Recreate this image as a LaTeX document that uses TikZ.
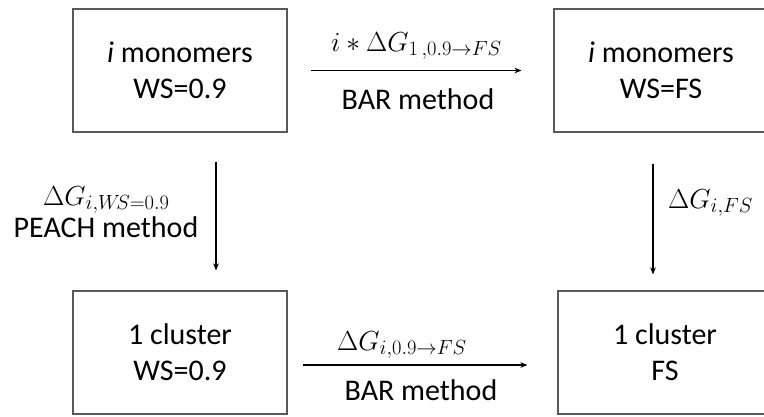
\documentclass[tikz,border=0pt]{standalone}
\usepackage{fix-cm}
\usepackage{fontspec}
\setmainfont{Carlito}
\usetikzlibrary{arrows.meta}
\DeclareMathSizes{27.5}{27.5}{20.5}{15}
\begin{document}
\begin{tikzpicture}[x=1pt,y=-1pt,
  statebox/.style={draw=black!65, line width=1.1pt, minimum width=214pt, minimum height=123pt,
    align=center, font=\fontsize{30}{36}\selectfont, inner sep=0pt},
  flow/.style={-{Stealth[length=7pt,width=5.5pt]}, line width=1.3pt},
  lbl/.style={anchor=base, inner sep=0pt, font=\fontsize{30}{34}\selectfont},
  mlbl/.style={inner sep=0pt, font=\fontsize{27.5}{34}\selectfont}]
\useasboundingbox (0,0) rectangle (764,416);
\clip (0,0) rectangle (764,416);
\fill[white] (0,0) rectangle (764,416);

\node[statebox] (tl) at (180,70.5) {\textit{i} monomers\\WS=0.9};
\node[statebox] (tr) at (661,70.5) {\textit{i} monomers\\WS=FS};
\node[statebox] (bl) at (180,352.5) {1 cluster\\WS=0.9};
\node[statebox] (br) at (665,352.5) {1 cluster\\FS};

\draw[flow] ([xshift=23pt]tl.east) -- ([xshift=-32pt]tr.west);
\draw[flow] ([shift={(15,12.5)}]bl.east) -- ([shift={(-30,12.5)}]br.west);
\draw[flow] ([shift={(36,29)}]tl.south) -- ([shift={(36,-20)}]bl.north);
\draw[flow] ([shift={(-8,31)}]tr.south) -- ([shift={(-12,-16)}]br.north);

\node[mlbl, anchor=base east] (tmath) at (502,51) {$i \ast \Delta G_{1\,,0.9\rightarrow FS}$};
\node[lbl] (tbar) at (418,109) {BAR method};
\node[mlbl, anchor=base east] (bmath) at (467,350) {$\Delta G_{i,0.9\rightarrow FS}$};
\node[lbl] (bbar) at (421,400) {BAR method};
\node[mlbl, anchor=base west] (lmath) at (43,205) {$\Delta G_{i,W\!S=0.9}$};
\node[lbl] (lpeach) at (106,237) {PEACH method};
\node[mlbl, anchor=base west] (rmath) at (668,208) {$\Delta G_{i,FS}$};
\end{tikzpicture}
\end{document}
